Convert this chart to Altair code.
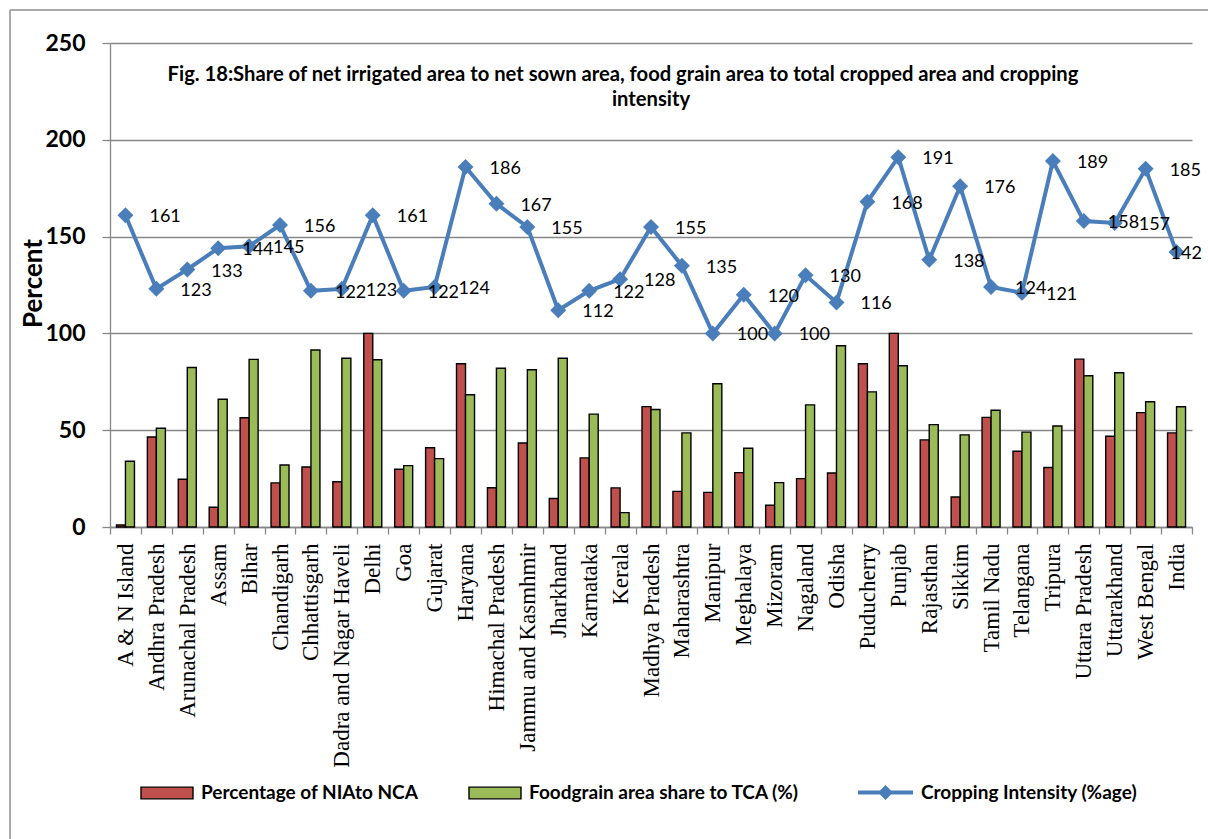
import altair as alt
import pandas as pd

states = ["A & N Island", "Andhra Pradesh", "Arunachal Pradesh", "Assam", "Bihar",
          "Chandigarh", "Chhattisgarh", "Dadra and Nagar Haveli", "Delhi", "Goa",
          "Gujarat", "Haryana", "Himachal Pradesh", "Jammu and Kasmhmir", "Jharkhand",
          "Karnataka", "Kerala", "Madhya Pradesh", "Maharashtra", "Manipur",
          "Meghalaya", "Mizoram", "Nagaland", "Odisha", "Puducherry",
          "Punjab", "Rajasthan", "Sikkim", "Tamil Nadu", "Telangana",
          "Tripura", "Uttara Pradesh", "Uttarakhand", "West Bengal", "India"]

nia_nca = [1, 46.5, 24.7, 10.2, 56.4, 22.8, 31, 23.4, 100, 29.8,
           40.9, 84.3, 20.3, 43.4, 14.7, 35.7, 20.2, 62.2, 18.4, 17.9,
           28.1, 11.2, 25, 27.9, 84.3, 100, 45, 15.5, 56.6, 39.1,
           30.7, 86.7, 46.9, 59.1, 48.6]

foodgrain = [34, 51, 82.4, 66, 86.6, 32, 91.4, 87.2, 86.4, 31.7,
             35.3, 68.3, 82, 81.2, 87.2, 58.3, 7.4, 60.7, 48.6, 74,
             40.7, 22.9, 63.1, 93.6, 69.8, 83.3, 52.9, 47.6, 60.3, 49,
             52.2, 78.1, 79.7, 64.7, 62.1]

cropping = [161, 123, 133, 144, 145, 156, 122, 123, 161, 122,
            124, 186, 167, 155, 112, 122, 128, 155, 135, 100,
            120, 100, 130, 116, 168, 191, 138, 176, 124, 121,
            189, 158, 157, 185, 142]

bar_series = ["Percentage of NIAto NCA", "Foodgrain area share to TCA (%)"]
line_series = ["Cropping Intensity (%age)"]
title_line1 = "Fig. 18:Share of net irrigated area to net sown area, food grain area to total cropped area and cropping"
title_line2 = "intensity"
y_ticks = [0, 50, 100, 150, 200, 250]

RED = "#C0504D"
GREEN = "#9BBB59"
BLUE = "#4A7EBB"
GRID = "#878787"

n = len(states)
bars_df = pd.DataFrame({
    "State": states * 2,
    "Series": [bar_series[0]] * n + [bar_series[1]] * n,
    "Value": nia_nca + foodgrain,
})
line_df = pd.DataFrame({"State": states, "Series": line_series[0], "Value": cropping})
last_state = states[-1]

x_enc = alt.X("State:N", sort=states, title=None,
              scale=alt.Scale(paddingInner=0, paddingOuter=0),
              axis=alt.Axis(labelAngle=270, labelFont="Liberation Serif", labelFontSize=23,
                            labelColor="black", labelPadding=9, tickSize=7, tickColor=GRID,
                            tickWidth=1.3, domainColor=GRID, domainWidth=1.3, tickBand="extent",
                            labelLimit=400, labelOverlap=False, grid=False))
y_enc = alt.Y("Value:Q", scale=alt.Scale(domain=[0, 250], nice=False),
              axis=alt.Axis(values=y_ticks, grid=True, gridColor=GRID, gridWidth=1.3,
                            domainColor=GRID, domainWidth=1.3, tickColor=GRID, tickWidth=1.3,
                            tickSize=8, labelFont="Lato", labelFontSize=23, labelFontWeight="bold",
                            labelColor="black", labelPadding=17, title="Percent",
                            titleFont="Lato", titleFontSize=26, titleFontWeight="bold",
                            titleColor="black", titleX=-77, titleY=240, titleAngle=270,
                            titleAlign="center", titleBaseline="middle"))

bars = alt.Chart(bars_df).mark_bar(stroke="black", strokeWidth=1.4).encode(
    x=x_enc,
    y=y_enc,
    xOffset=alt.XOffset("Series:N", sort=bar_series,
                        scale=alt.Scale(paddingInner=0, paddingOuter=0.717)),
    fill=alt.Fill("Series:N", scale=alt.Scale(domain=bar_series, range=[RED, GREEN]),
                  legend=alt.Legend(title=None, orient="none", legendX=30, legendY=723,
                                    direction="horizontal", columns=2, padding=0,
                                    symbolType="M-1,-0.225H1V0.225H-1Z", symbolSize=2704,
                                    symbolStrokeColor="black", symbolStrokeWidth=1.4,
                                    symbolOpacity=1, labelFont="Lato", labelFontSize=19,
                                    labelFontWeight="bold", labelColor="black",
                                    labelOffset=7, columnPadding=47, labelLimit=500)),
)

line = alt.Chart(line_df).mark_line(strokeWidth=4).encode(
    x=x_enc,
    y=alt.Y("Value:Q"),
    stroke=alt.Stroke("Series:N", scale=alt.Scale(domain=line_series, range=[BLUE]),
                      legend=alt.Legend(title=None, orient="none", legendX=746, legendY=720,
                                        padding=0,
                                        symbolType="M-1,0H1M0,-0.17L0.17,0L0,0.17L-0.17,0Z",
                                        symbolSize=3025, symbolStrokeWidth=4,
                                        symbolFillColor=BLUE, symbolStrokeColor=BLUE,
                                        labelFont="Lato", labelFontSize=19,
                                        labelFontWeight="bold", labelColor="black",
                                        labelOffset=6, labelLimit=500)),
)

points = alt.Chart(line_df).mark_point(shape="diamond", filled=True, size=256, opacity=1,
                                       color=BLUE).encode(x=x_enc, y=alt.Y("Value:Q"))

labels = alt.Chart(line_df).transform_filter(
    alt.datum.State != last_state
).mark_text(align="left", baseline="middle", dx=24, dy=2,
            font="Lato", fontSize=18, color="black").encode(
    x=x_enc, y=alt.Y("Value:Q"), text=alt.Text("Value:Q", format=".0f"))

label_last = alt.Chart(line_df).transform_filter(
    alt.datum.State == last_state
).mark_text(align="left", baseline="middle", dx=-6, dy=2,
            font="Lato", fontSize=18, color="black").encode(
    x=x_enc, y=alt.Y("Value:Q"), text=alt.Text("Value:Q", format=".0f"))

t1 = alt.Chart(pd.DataFrame({"t": [title_line1]})).mark_text(
    align="center", baseline="middle", font="Lato", fontSize=20.2, fontWeight="bold",
    color="black").encode(text="t:N", x=alt.value(513), y=alt.value(32))
t2 = alt.Chart(pd.DataFrame({"t": [title_line2]})).mark_text(
    align="center", baseline="middle", font="Lato", fontSize=20.2, fontWeight="bold",
    color="black").encode(text="t:N", x=alt.value(541), y=alt.value(57))

frame_top = alt.Chart(pd.DataFrame({"a": [0]})).mark_rule(color="#8c8c8c", strokeWidth=1.5).encode(
    x=alt.value(-100), x2=alt.value(1098), y=alt.value(-33))
frame_left = alt.Chart(pd.DataFrame({"a": [0]})).mark_rule(color="#8c8c8c", strokeWidth=1.5).encode(
    x=alt.value(-100), y=alt.value(-33), y2=alt.value(796))

chart = alt.layer(bars, line, points, labels, label_last, t1, t2, frame_top, frame_left).properties(
    width=1082, height=484,
    autosize=alt.AutoSizeParams(type="none"),
    padding={"left": 110, "top": 43, "right": 16, "bottom": 312},
    background="white",
).configure_view(strokeWidth=0)

chart.save("out.html", embed_options={"renderer": "svg", "actions": False})
